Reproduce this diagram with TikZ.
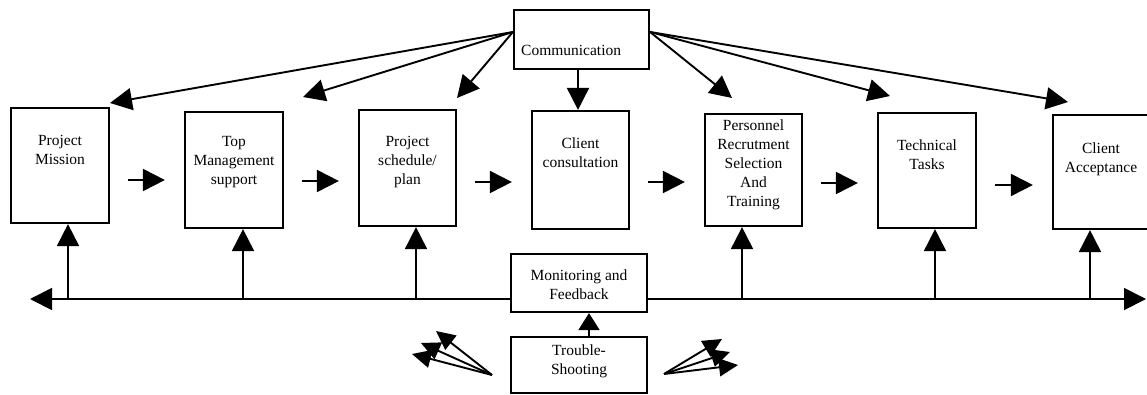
\documentclass[tikz,border=0pt]{standalone}
\usepackage{fontspec}
\setmainfont{Liberation Serif}
\usetikzlibrary{arrows.meta}
\begin{document}
\begin{tikzpicture}[x=1pt,y=-1pt,
  font=\fontsize{15.5}{19}\selectfont,
  stage/.style={draw, line width=2.2pt, fill=white, inner sep=0pt},
  lbl/.style={align=center, inner sep=0pt, anchor=north},
  bighead/.style={-{Triangle[length=22pt,width=22pt]}},
  arr/.style={line width=1.9pt, bighead},
  flow/.style={arr, shorten <=17.5pt, shorten >=19pt},
  fan/.style={line width=1.9pt, -{Triangle[length=19pt,width=18pt]}}
]
\useasboundingbox (0,0) rectangle (1147,395);

% feedback bus running under the phases
\coordinate (busL) at (30,299);
\coordinate (busR) at (1146,299);
\draw[line width=1.9pt, {Triangle[length=22pt,width=22pt]}-{Triangle[length=22pt,width=22pt]}] (busL) -- (busR);

% project phases
\node[stage, minimum width=98pt, minimum height=115pt] (B1) at (60,165.5) {};
\node[stage, minimum width=98pt, minimum height=116pt] (B2) at (234,170) {};
\node[stage, minimum width=97pt, minimum height=116pt] (B3) at (407.5,168) {};
\node[stage, minimum width=97pt, minimum height=118pt] (B4) at (580.5,170) {};
\node[stage, minimum width=97pt, minimum height=112pt] (B5) at (753.5,170) {};
\node[stage, minimum width=98pt, minimum height=115pt] (B6) at (927,170.5) {};
\node[stage, minimum width=96pt, minimum height=114pt] (B7) at (1101,172) {};

\node[lbl] (B1t) at (60,135) {Project\\Mission};
\node[lbl] (B2t) at (234,136) {Top\\Management\\support};
\node[lbl] (B3t) at (407.5,136) {Project\\schedule/\\plan};
\node[lbl] (B4t) at (580.5,138) {Client\\consultation};
\node[lbl] (B5t) at (753.5,120) {Personnel\\Recrutment\\Selection\\And\\Training};
\node[lbl] (B6t) at (927,140) {Technical\\Tasks};
\node[lbl] (B7t) at (1101,143) {Client\\Acceptance};

% communication, monitoring and trouble-shooting
\node[stage, minimum width=135pt, minimum height=59pt] (comm) at (581.5,39.5) {};
\node[inner sep=0pt, anchor=west] (commt) at (521,50) {Communication};
\node[stage, minimum width=136pt, minimum height=58pt] (mon) at (579,283) {};
\node[lbl] (mont) at (579,270) {Monitoring and\\Feedback};
\node[stage, minimum width=136pt, minimum height=56pt] (trb) at (579,365) {};
\node[lbl] (trbt) at (579,345) {Trouble-\\Shooting};

% sequence of phases
\foreach \a/\b/\y in {B1/B2/180, B2/B3/181, B3/B4/182, B4/B5/182, B5/B6/183, B6/B7/185}
  \draw[flow] (\a.east |- 0,\y) -- (\b.west |- 0,\y);

% feedback into each phase
\foreach \b/\x in {B1/68, B2/243, B3/416, B5/742, B6/935, B7/1090}
  \draw[arr] (\x,0 |- busL) -- (\x,0 |- \b.south);

% communication to each phase
\coordinate (cL) at (comm.west |- 0,32);
\coordinate (cR) at (comm.east |- 0,32);
\coordinate (t1) at (110,103);
\coordinate (t2) at (303,97);
\coordinate (t3) at (457,98);
\coordinate (t5) at (732,98);
\coordinate (t6) at (890,96);
\coordinate (t7) at (1068,102);
\foreach \t in {t1,t2,t3} \draw[arr] (cL) -- (\t);
\foreach \t in {t5,t6,t7} \draw[arr] (cR) -- (\t);
\draw[arr] (578,0 |- comm.south) -- (578,0 |- B4.north);

% trouble-shooting
\draw[line width=1.9pt, -{Triangle[length=17pt,width=21pt]}] (589,0 |- trb.north) -- (589,0 |- mon.south);
\coordinate (fL) at (492,375);
\coordinate (fR) at (664,374);
\coordinate (l1) at (436,331);
\coordinate (l2) at (421,343);
\coordinate (l3) at (412,354);
\coordinate (r1) at (722,339);
\coordinate (r2) at (730,352);
\coordinate (r3) at (738,365);
\foreach \t in {l1,l2,l3} \draw[fan] (fL) -- (\t);
\foreach \t in {r1,r2,r3} \draw[fan] (fR) -- (\t);
\end{tikzpicture}
\end{document}
